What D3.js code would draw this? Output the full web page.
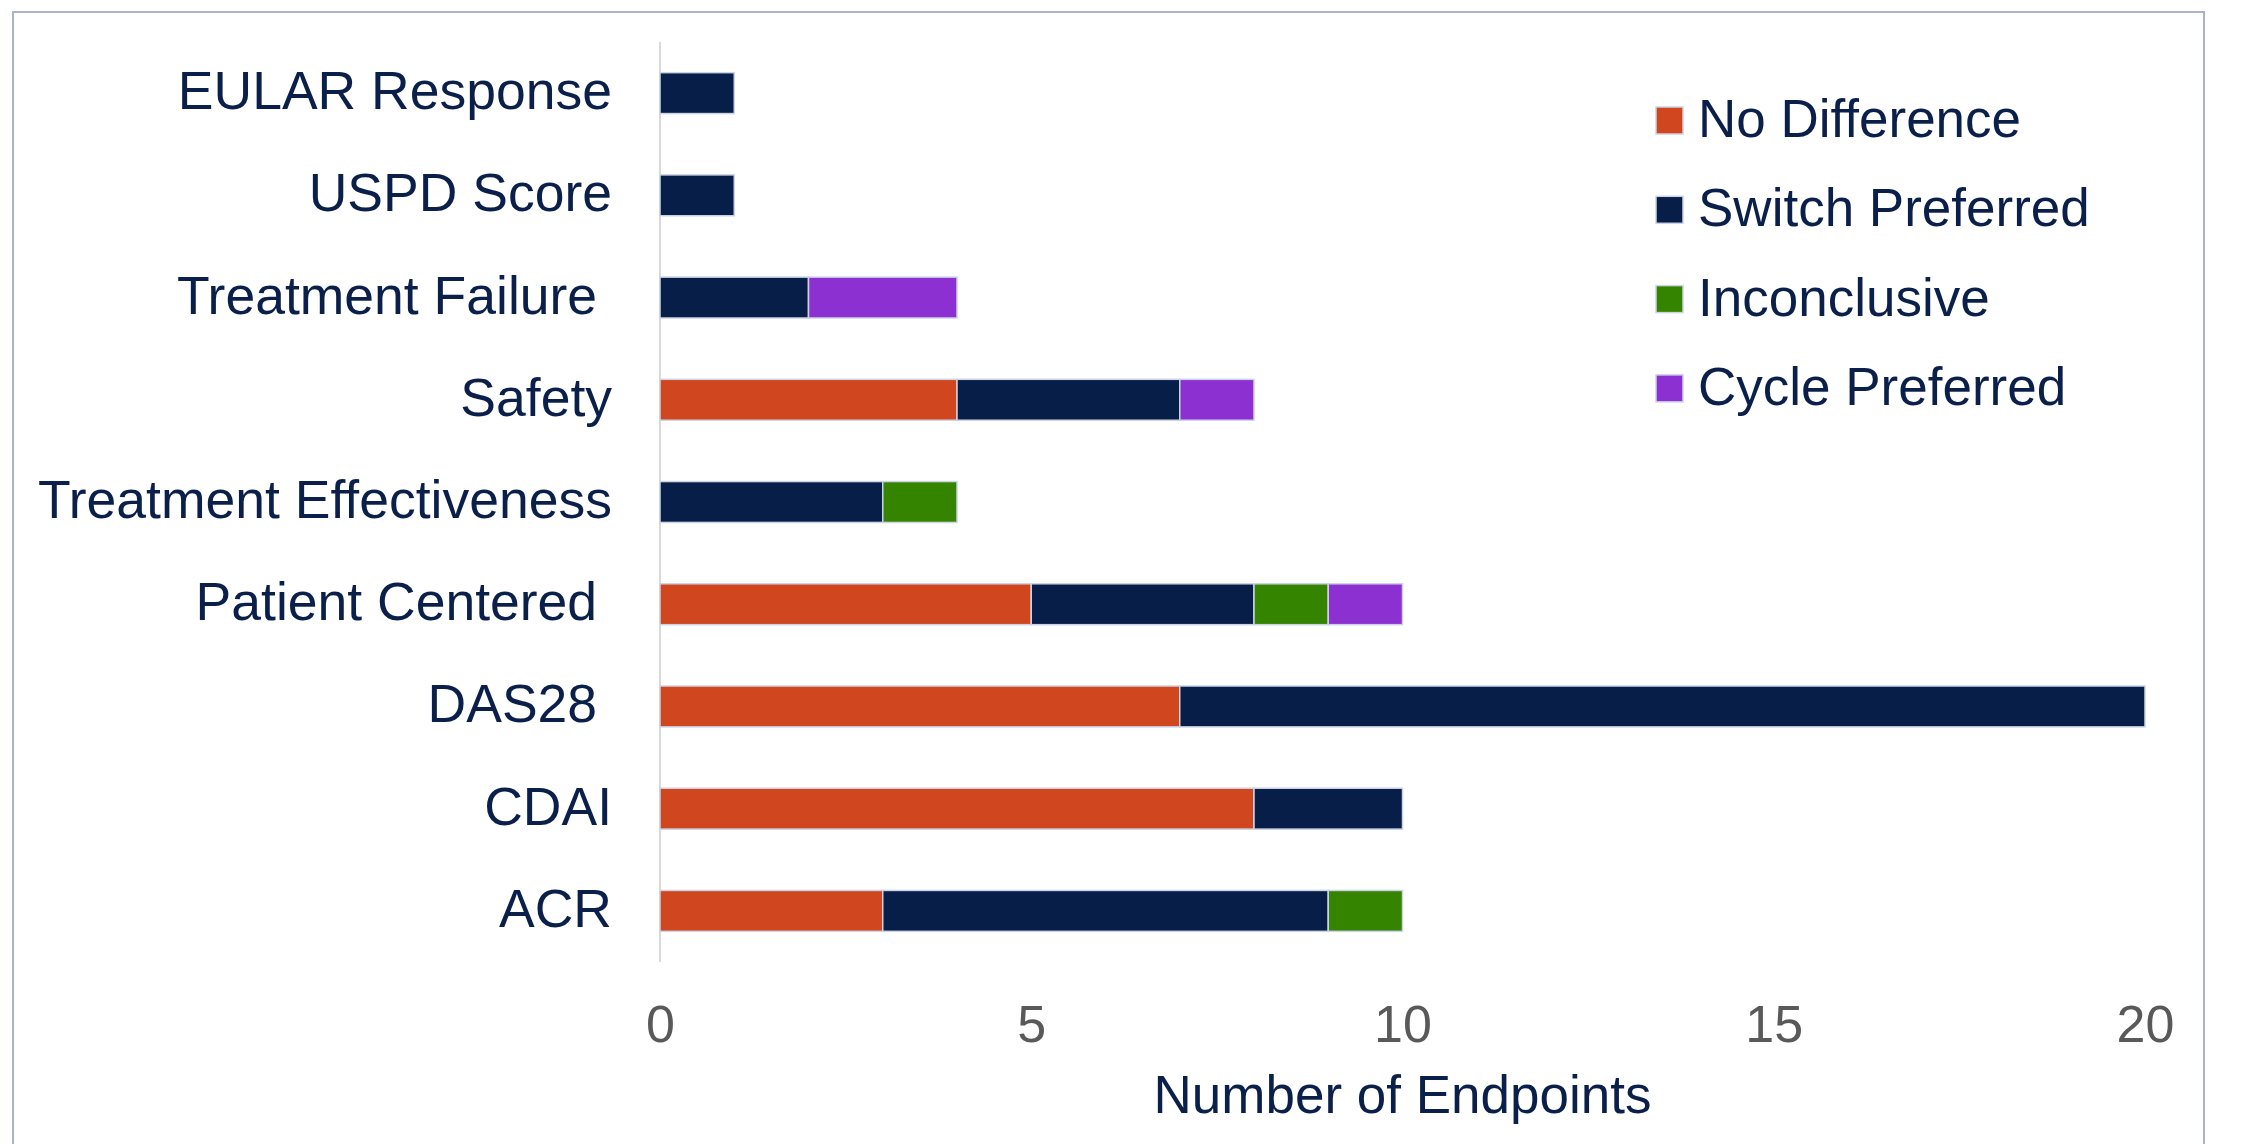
<!DOCTYPE html>
<html>
<head>
<meta charset="utf-8">
<script src="https://cdn.jsdelivr.net/npm/d3@7"></script>
<style>
  body { margin: 0; background: #fff; }
  text { font-family: "Liberation Sans", Arial, sans-serif; white-space: pre; }
</style>
</head>
<body>
<svg id="chart" width="2261" height="1144"></svg>
<script>
// categories top to bottom (trailing spaces are in the original labels)
const categories = ["EULAR Response", "USPD Score", "Treatment Failure ", "Safety",
  "Treatment Effectiveness", "Patient Centered ", "DAS28 ", "CDAI", "ACR"];

const seriesNames = ["No Difference", "Switch Preferred", "Inconclusive", "Cycle Preferred"];
const noDifference    = [0, 0, 0, 4, 0, 5, 7, 8, 3];
const switchPreferred = [1, 1, 2, 3, 3, 3, 13, 2, 6];
const inconclusive    = [0, 0, 0, 0, 1, 1, 0, 0, 1];
const cyclePreferred  = [0, 0, 2, 1, 0, 1, 0, 0, 0];
const xTicks = [0, 5, 10, 15, 20];

const colors = ["#d0461e", "#071e49", "#348400", "#8c30d2"];

const svg = d3.select("#chart");

// outer frame
svg.append("rect")
  .attr("x", 13).attr("y", 12)
  .attr("width", 2191).attr("height", 1160)
  .attr("fill", "none")
  .attr("stroke", "#a9b4ca")
  .attr("stroke-width", 2);

const x = d3.scaleLinear().domain([0, 20]).range([660, 2145]);
const y = d3.scaleBand().domain(categories).range([42, 962]).paddingInner(0.6).paddingOuter(0.3);

// build table for stack
let rows = categories.map(function (c, i) {
  return {
    cat: c,
    "No Difference": noDifference[i],
    "Switch Preferred": switchPreferred[i],
    "Inconclusive": inconclusive[i],
    "Cycle Preferred": cyclePreferred[i]
  };
});
let stacked = d3.stack().keys(seriesNames)(rows);

// y axis line
svg.append("line")
  .attr("x1", x(0)).attr("x2", x(0))
  .attr("y1", 42).attr("y2", 962)
  .attr("stroke", "#d9d9d9")
  .attr("stroke-width", 2);

let groups = svg.selectAll("g.series")
  .data(stacked)
  .enter().append("g")
  .attr("class", "series")
  .attr("fill", function (d, i) { return colors[i]; });

groups.selectAll("rect")
  .data(function (d) { return d.filter(function (s) { return s[1] - s[0] > 0; }); })
  .enter().append("rect")
  .attr("x", function (d) { return x(d[0]); })
  .attr("width", function (d) { return x(d[1]) - x(d[0]); })
  .attr("y", function (d) { return y(d.data.cat); })
  .attr("height", y.bandwidth())
  .attr("stroke", "#cdd3e6")
  .attr("stroke-width", 1.5);

// category labels
svg.selectAll("text.cat")
  .data(categories)
  .enter().append("text")
  .attr("class", "cat")
  .attr("x", 612)
  .attr("y", function (d) { return y(d) + y.bandwidth() / 2; })
  .attr("dy", "0.3em")
  .attr("text-anchor", "end")
  .attr("font-size", 53.5)
  .attr("fill", "#0b1f4b")
  .text(function (d) { return d; });

// x axis (labels only)
let xAxis = svg.append("g")
  .attr("transform", "translate(0,1042)")
  .call(d3.axisBottom(x).tickValues(xTicks).tickSize(0).tickPadding(0));
xAxis.select(".domain").remove();
xAxis.selectAll("text")
  .attr("dy", 0)
  .attr("font-size", 52)
  .attr("font-family", "Liberation Sans, Arial, sans-serif")
  .attr("fill", "#595959");

svg.append("text")
  .attr("x", (x(0) + x(20)) / 2)
  .attr("y", 1113)
  .attr("text-anchor", "middle")
  .attr("font-size", 53)
  .attr("fill", "#0b1f4b")
  .text("Number of Endpoints");

// legend
let legend = svg.selectAll("g.legend")
  .data(seriesNames)
  .enter().append("g")
  .attr("class", "legend")
  .attr("transform", function (d, i) { return "translate(1656," + (137 + i * 89.3) + ")"; });

legend.append("rect")
  .attr("x", 0).attr("y", -30)
  .attr("width", 27).attr("height", 27)
  .attr("fill", function (d, i) { return colors[i]; })
  .attr("stroke", "#cdd3e6")
  .attr("stroke-width", 1.5);

legend.append("text")
  .attr("x", 42).attr("y", 0)
  .attr("font-size", 53)
  .attr("fill", "#0b1f4b")
  .text(function (d) { return d; });
</script>
</body>
</html>
